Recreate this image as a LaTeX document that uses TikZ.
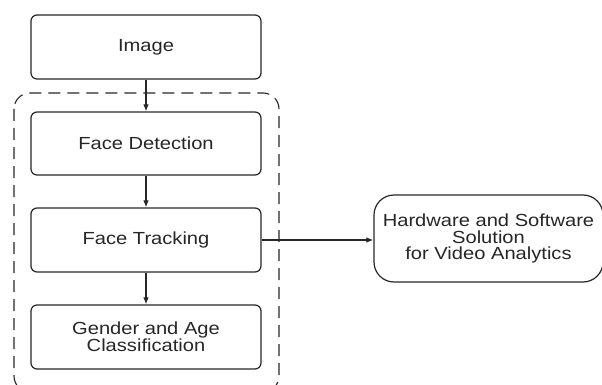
\documentclass[tikz,border=0pt]{standalone}
\usepackage{fontspec}
\setmainfont{Liberation Sans}[FakeStretch=1.15]
\usetikzlibrary{arrows.meta}
\definecolor{ink}{HTML}{262626}
\tikzset{
  stage/.style={draw=ink, line width=1.2pt, rounded corners=6pt,
    minimum width=230pt, minimum height=64pt, inner sep=0pt,
    align=center, text=ink, font=\fontsize{17.5}{16.7}\selectfont},
  goal/.style={stage, rounded corners=20pt, minimum width=229pt, minimum height=87pt},
  flow/.style={draw=ink, line width=1.1pt, -{Latex[length=7pt,width=5.5pt]}},
  group/.style={draw=ink, line width=1.1pt, dash pattern=on 12pt off 7pt, rounded corners=16pt}
}
\begin{document}
\begin{tikzpicture}[x=1pt, y=-1pt]
  \useasboundingbox (0,0) rectangle (602,385);
  % dashed frame around the analysis stages
  \draw[group] (14,93) rectangle (279,392);
  \node[stage] (img)  at (146,47)    {Image};
  \node[stage, minimum height=63pt] (det) at (146,143.5) {Face Detection};
  \node[stage] (trk)  at (146,240)   {Face Tracking};
  \node[stage] (cls)  at (146,337)   {Gender and Age\\Classification};
  \node[goal]  (hw)   at (488.5,238.5) {Hardware and Software\\Solution\\for Video Analytics};
  \draw[flow] (img) -- (det);
  \draw[flow] (det) -- (trk);
  \draw[flow] (trk) -- (cls);
  \draw[flow] (trk.east) -- (trk.east -| hw.west);
\end{tikzpicture}
\end{document}
